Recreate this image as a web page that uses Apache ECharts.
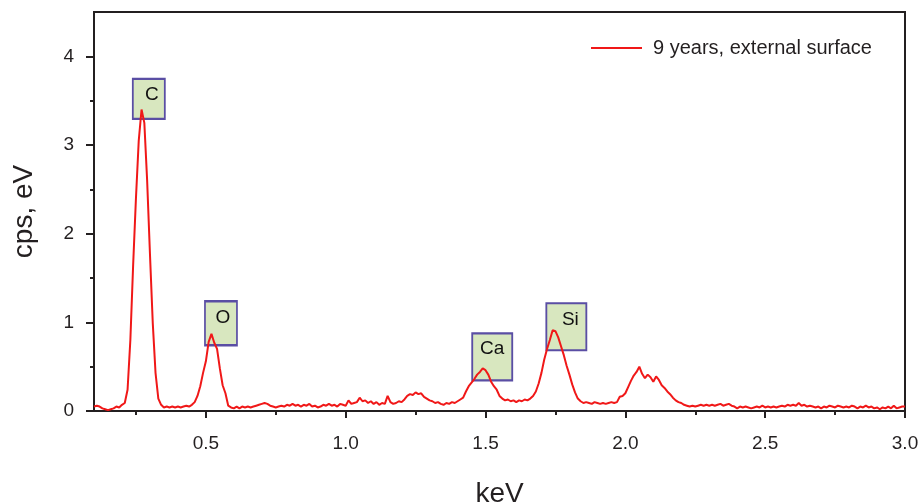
<!DOCTYPE html>
<html><head><meta charset="utf-8">
<script src="https://cdn.jsdelivr.net/npm/echarts@6/dist/echarts.min.js"></script>
<style>html,body{margin:0;padding:0;background:#fff}#c{width:921px;height:504px}</style>
</head><body><div id="c"></div>
<script>
const seriesName = '9 years, external surface';
const xAxisName = 'keV';
const yAxisName = 'cps, eV';
// channel grid of the spectrum (keV)
const energyStart = 0.10;
const energyStep = 0.01;
// counts, one per channel 0.10 ... 3.00
const cps = [
  0.05,0.06,0.05,0.03,0.02,0.01,0.02,0.03,0.05,0.04,
  0.07,0.09,0.24,0.80,1.65,2.40,3.05,3.40,3.25,2.60,
  1.78,1.00,0.43,0.14,0.07,0.04,0.05,0.04,0.05,0.04,
  0.05,0.04,0.05,0.06,0.05,0.07,0.10,0.17,0.28,0.43,
  0.56,0.78,0.87,0.77,0.70,0.48,0.29,0.20,0.06,0.04,
  0.03,0.05,0.03,0.05,0.04,0.05,0.04,0.05,0.06,0.07,
  0.08,0.09,0.08,0.06,0.05,0.04,0.05,0.06,0.05,0.07,
  0.06,0.08,0.06,0.07,0.05,0.07,0.06,0.08,0.05,0.06,
  0.04,0.05,0.07,0.06,0.08,0.06,0.07,0.05,0.08,0.07,
  0.06,0.12,0.08,0.09,0.10,0.15,0.11,0.12,0.09,0.11,
  0.08,0.10,0.07,0.09,0.08,0.17,0.10,0.08,0.09,0.11,
  0.10,0.13,0.17,0.19,0.18,0.21,0.19,0.20,0.16,0.14,
  0.12,0.11,0.09,0.10,0.08,0.07,0.09,0.08,0.10,0.09,
  0.11,0.13,0.15,0.22,0.28,0.32,0.36,0.41,0.44,0.48,
  0.46,0.41,0.33,0.28,0.24,0.17,0.14,0.12,0.13,0.11,
  0.12,0.10,0.12,0.11,0.13,0.12,0.14,0.17,0.22,0.31,
  0.43,0.58,0.70,0.80,0.91,0.90,0.83,0.73,0.63,0.51,
  0.41,0.30,0.21,0.14,0.11,0.09,0.10,0.09,0.08,0.10,
  0.09,0.08,0.09,0.08,0.09,0.10,0.09,0.10,0.16,0.17,
  0.20,0.27,0.34,0.40,0.44,0.50,0.42,0.37,0.41,0.38,
  0.33,0.39,0.35,0.29,0.26,0.22,0.19,0.15,0.12,0.10,
  0.09,0.07,0.06,0.05,0.06,0.05,0.06,0.07,0.06,0.07,
  0.06,0.07,0.06,0.07,0.08,0.06,0.07,0.08,0.06,0.05,
  0.03,0.05,0.04,0.05,0.04,0.03,0.04,0.05,0.04,0.06,
  0.04,0.05,0.04,0.05,0.04,0.05,0.06,0.05,0.07,0.06,
  0.07,0.06,0.09,0.06,0.07,0.05,0.06,0.05,0.04,0.05,
  0.03,0.05,0.04,0.06,0.05,0.04,0.06,0.05,0.04,0.05,
  0.04,0.06,0.05,0.03,0.05,0.04,0.06,0.04,0.05,0.03,
  0.04,0.02,0.04,0.03,0.05,0.03,0.06,0.03,0.04,0.05,
  0.05
];
const xTickValues = [0.5, 1.0, 1.5, 2.0, 2.5, 3.0];
const xMinorTickValues = [0.25, 0.75, 1.25, 1.75, 2.25, 2.75];
const yTickValues = [0, 1, 2, 3, 4];
const yMinorTickValues = [0.5, 1.5, 2.5, 3.5];
// element labels and where their boxes sit (data units)
const peakLabels = ['C', 'O', 'Ca', 'Si'];
const peakLabelKeV = [0.296, 0.554, 1.524, 1.789];
const peakLabelCps = [3.52, 0.99, 0.61, 0.95];

const FONT = '"Liberation Sans", Arial, sans-serif';
const INK = '#231f20';
const RED = '#f01818';
const boxSizes = [[32, 40], [32, 44], [40, 47], [40, 47]];
const textOffsets = [[3, -4], [2, -5], [0, -8], [4, -7]];

const spectrum = cps.map((v, i) => [+(energyStart + i * energyStep).toFixed(2), v]);
const boxes = peakLabels.map((name, i) => ({
  name: name,
  value: [peakLabelKeV[i], peakLabelCps[i]],
  symbolSize: boxSizes[i],
  label: { offset: textOffsets[i] }
}));

const chart = echarts.init(document.getElementById('c'), null, { renderer: 'canvas' });
const baseX = { type: 'value', min: 0.1, max: 3.0, gridIndex: 0, position: 'bottom', splitLine: { show: false } };
const baseY = { type: 'value', min: 0, max: 4.5, gridIndex: 0, position: 'left', splitLine: { show: false } };
chart.setOption({
  animation: false,
  backgroundColor: '#ffffff',
  grid: {
    left: 94, right: 16, top: 12, bottom: 93, containLabel: false, outerBoundsMode: 'none',
    show: true, borderColor: INK, borderWidth: 2, backgroundColor: 'transparent'
  },
  legend: {
    data: [seriesName], left: 590, top: 38, padding: 0,
    itemWidth: 51, itemHeight: 20,
    itemStyle: { opacity: 0 },
    lineStyle: { color: RED, width: 2, opacity: 1 },
    textStyle: { fontFamily: FONT, fontSize: 20, color: INK, padding: [0, 0, 0, 6] }
  },
  xAxis: [
    Object.assign({}, baseX, {
      name: xAxisName, nameLocation: 'middle', nameGap: 69,
      nameTextStyle: { fontFamily: FONT, fontSize: 28, color: INK },
      axisLine: { lineStyle: { color: INK, width: 2 } },
      axisTick: { show: true, inside: false, length: 7, customValues: xTickValues, lineStyle: { color: INK, width: 2 } },
      axisLabel: { customValues: xTickValues, margin: 23, fontFamily: FONT, fontSize: 19, color: INK, formatter: v => v.toFixed(1) }
    }),
    Object.assign({}, baseX, {
      axisLine: { show: false },
      axisTick: { show: true, inside: false, length: 4, customValues: xMinorTickValues, lineStyle: { color: INK, width: 2 } },
      axisLabel: { show: false }
    })
  ],
  yAxis: [
    Object.assign({}, baseY, {
      name: yAxisName, nameLocation: 'middle', nameGap: 56,
      nameTextStyle: { fontFamily: FONT, fontSize: 28, color: INK },
      axisLine: { lineStyle: { color: INK, width: 2 } },
      axisTick: { show: true, inside: false, length: 8, customValues: yTickValues, lineStyle: { color: INK, width: 2 } },
      axisLabel: { customValues: yTickValues, margin: 20, fontFamily: FONT, fontSize: 19, color: INK }
    }),
    Object.assign({}, baseY, {
      axisLine: { show: false },
      axisTick: { show: true, inside: false, length: 4, customValues: yMinorTickValues, lineStyle: { color: INK, width: 2 } },
      axisLabel: { show: false }
    })
  ],
  series: [
    {
      name: 'labels', type: 'scatter', xAxisIndex: 0, yAxisIndex: 0, z: 1,
      symbol: 'rect', data: boxes, silent: true,
      itemStyle: { color: '#d8e7bf', borderColor: '#5a4ea4', borderWidth: 2, opacity: 1 },
      label: { show: true, position: 'inside', formatter: p => p.name, fontFamily: FONT, fontSize: 19, color: '#111' },
      emphasis: { disabled: true }
    },
    {
      name: seriesName, type: 'line', xAxisIndex: 0, yAxisIndex: 0, z: 3,
      data: spectrum, symbol: 'none', showSymbol: false, smooth: false,
      lineStyle: { color: RED, width: 2 },
      itemStyle: { color: RED },
      emphasis: { disabled: true }
    }
  ]
});
</script>
</body></html>
